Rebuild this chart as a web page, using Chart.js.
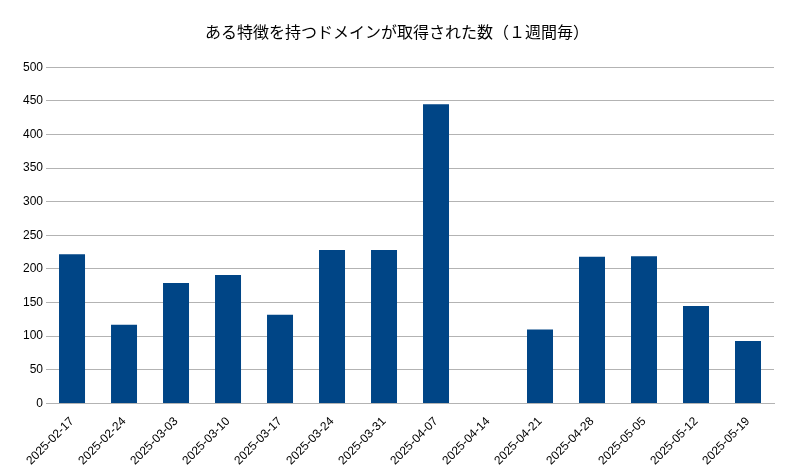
<!DOCTYPE html>
<html lang="ja">
<head>
  <meta charset="UTF-8">
  <title>ある特徴を持つドメインが取得された数</title>
  <script src="https://cdn.jsdelivr.net/npm/chart.js"></script>
  <style>
    body { margin: 0; background: #fff; }
    #wrap { width: 788px; height: 475px; }
  </style>
</head>
<body>
  <div id="wrap"><canvas id="chart"></canvas></div>
  <script>
    const weeks = [
      '2025-02-17', '2025-02-24', '2025-03-03', '2025-03-10', '2025-03-17',
      '2025-03-24', '2025-03-31', '2025-04-07', '2025-04-14', '2025-04-21',
      '2025-04-28', '2025-05-05', '2025-05-12', '2025-05-19'
    ];
    const counts = [222, 117, 179, 191, 132, 228, 228, 445, 0, 110, 218, 219, 145, 93];

    new Chart(document.getElementById('chart'), {
      type: 'bar',
      data: {
        labels: weeks,
        datasets: [{
          data: counts,
          backgroundColor: '#004586',
          barPercentage: 0.5,
          categoryPercentage: 1.0
        }]
      },
      options: {
        responsive: true,
        maintainAspectRatio: false,
        animation: false,
        layout: { padding: { left: 20, right: 14, top: 0, bottom: 4 } },
        plugins: {
          legend: { display: false },
          title: {
            display: true,
            text: 'ある特徴を持つドメインが取得された数（１週間毎）',
            color: '#000',
            font: { family: '"Noto Sans CJK JP", sans-serif', size: 16, weight: 'normal' },
            padding: { top: 22, bottom: 26 }
          }
        },
        scales: {
          x: {
            grid: { display: false },
            border: { color: '#b3b3b3' },
            ticks: {
              color: '#000',
              maxRotation: 45, minRotation: 45,
              font: { family: '"Liberation Sans", sans-serif', size: 12 }
            }
          },
          y: {
            min: 0, max: 500,
            ticks: {
              stepSize: 50, color: '#000',
              font: { family: '"Liberation Sans", sans-serif', size: 12 }
            },
            grid: { color: '#b3b3b3', drawTicks: false },
            border: { display: false }
          }
        }
      }
    });
  </script>
</body>
</html>
